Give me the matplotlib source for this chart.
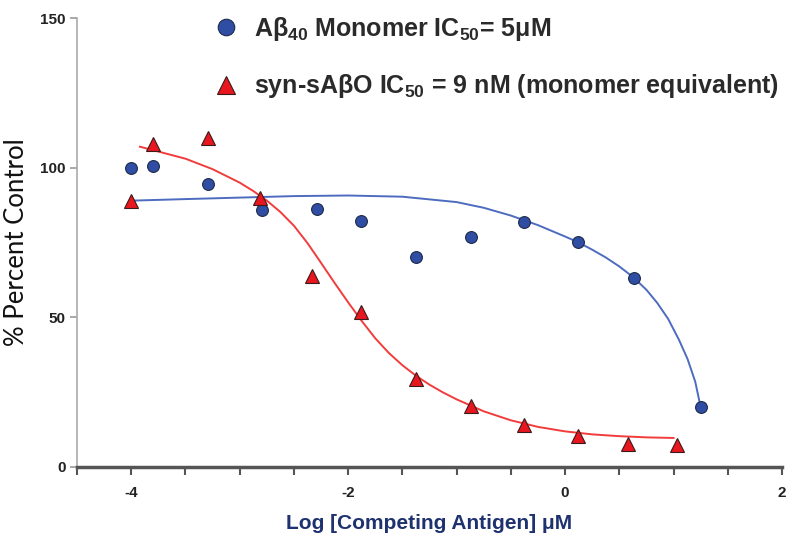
import matplotlib.pyplot as plt
import numpy as np

plt.rcParams['font.family'] = ['Liberation Sans', 'DejaVu Sans']
plt.rcParams['axes.unicode_minus'] = False
plt.rcParams['mathtext.fontset'] = 'custom'
plt.rcParams['mathtext.rm'] = 'Liberation Sans:bold'
plt.rcParams['mathtext.bf'] = 'Liberation Sans:bold'
plt.rcParams['mathtext.it'] = 'Liberation Sans:bold'

# measured points (log conc, % control)
mono_x = [-4.0, -3.8, -3.29, -2.79, -2.29, -1.88, -1.37, -0.87, -0.38, 0.12, 0.64, 1.25]
mono_y = [100, 100.7, 94.5, 85.7, 86.3, 82.3, 70, 77, 82, 75, 63, 20]

oligo_x = [-4.0, -3.8, -3.29, -2.81, -2.33, -1.88, -1.37, -0.87, -0.38, 0.12, 0.58, 1.03]
oligo_y = [89, 108, 110, 89.7, 63.7, 51.7, 29.3, 20.3, 14, 10.3, 7.7, 7.3]

# fitted curves
mono_fit_x = [-3.98, -3.5, -3.0, -2.5, -2.0, -1.5, -1.0, -0.75, -0.5, -0.25, 0.0, 0.125,
              0.25, 0.375, 0.5, 0.625, 0.75, 0.85, 0.95, 1.05, 1.13, 1.2, 1.25]
mono_fit_y = [89, 89.5, 90, 90.5, 90.7, 90.3, 88.5, 86.6, 84, 80.8, 77, 75,
              72.6, 70, 67, 63.5, 59.2, 54.8, 49.5, 42.5, 36, 28.5, 20]

oligo_fit_x = [-3.92, -3.5, -3.25, -3.0, -2.875, -2.75, -2.625, -2.5, -2.375, -2.25, -2.125,
               -2.0, -1.875, -1.75, -1.625, -1.5, -1.375, -1.25, -1.125,
               -1.0, -0.75, -0.5, -0.25, 0.0, 0.25, 0.5, 0.75, 1.0]
oligo_fit_y = [107, 103, 99.5, 95, 92.2, 89, 85.2, 80.6, 74.8, 68.2, 61.5,
               55, 48.8, 43, 38.1, 34, 30.5, 27.5, 24.9,
               22.6, 18.6, 15.6, 13.4, 11.9, 10.9, 10.3, 9.9, 9.7]

mono_label = r'A$\beta_{40}$ Monomer IC$_{50}$= 5$\mu$M'
oligo_label = r'syn-sA$\beta$O IC$_{50}$ = 9 nM (monomer equivalent)'

blue = '#2f4ea3'
red = '#e8161e'

fig = plt.figure(figsize=(8, 5.35), dpi=100)
ax = fig.add_axes([77 / 800, 68 / 535, 705 / 800, 449 / 535])

ax.plot(mono_fit_x, mono_fit_y, color='#4d6cc0', lw=1.4, zorder=2)
ax.plot(oligo_fit_x, oligo_fit_y, color='#f23c3c', lw=1.4, zorder=2)

h1, = ax.plot(mono_x, mono_y, 'o', ms=8.5, color=blue, mec='#1e2a4a', mew=0.8, ls='none', zorder=3)
h2, = ax.plot(oligo_x, oligo_y, '^', ms=9.5, color=red, mec='#3a1a1a', mew=0.8, ls='none', zorder=3)

ax.set_xlim(-4.5, 2)
ax.set_ylim(0, 150)
ax.set_xticks([-4, -2, 0, 2])
ax.set_xticks(np.arange(-4.5, 2.01, 0.5), minor=True)
ax.set_yticks([0, 50, 100, 150])

for s in ['top', 'right']:
    ax.spines[s].set_visible(False)
ax.spines['left'].set_color('#aaaaaa')
ax.spines['left'].set_linewidth(1.2)
ax.spines['bottom'].set_color('#555555')
ax.spines['bottom'].set_linewidth(2.5)

ax.tick_params(axis='x', which='both', length=6, width=1.5, color='#555555',
               labelsize=11, pad=8)
ax.tick_params(axis='y', length=5, width=1.2, color='#999999', labelsize=11, pad=3)
for lab in ax.get_xticklabels() + ax.get_yticklabels():
    lab.set_fontweight('bold')
    lab.set_color('#222222')

ax.set_ylabel('% Percent Control', fontsize=18.5, family=['Lato', 'DejaVu Sans'],
              color='#111111', labelpad=8)
ax.set_xlabel('Log [Competing Antigen] \u03bcM', fontsize=15, fontweight='bold',
              color='#1e3270', labelpad=10)

leg = ax.legend([h1, h2], [mono_label, oligo_label], loc='upper left',
                bbox_to_anchor=(216 / 800, 1 - 15 / 535), bbox_transform=fig.transFigure,
                frameon=False, prop={'size': 18, 'weight': 'bold'},
                markerscale=1.4, handletextpad=0.7, labelspacing=1.18,
                handlelength=0.8, borderpad=0, borderaxespad=0)
for t in leg.get_texts():
    t.set_color('#2a2a2a')

fig.savefig('out.png', dpi=100)
